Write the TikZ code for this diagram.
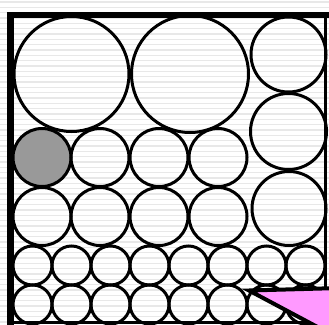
\documentclass[tikz,border=0pt]{standalone}
\begin{document}
\begin{tikzpicture}[x=1pt,y=-1pt,
  circ/.style={draw=black,line width=3pt},
  stripe/.style={draw={rgb,255:red,232;green,232;blue,232},line width=1.6pt}]
\useasboundingbox (0,0) rectangle (329,324);
\clip (0,0) rectangle (329,324);
\fill[white] (0,0) rectangle (329,324);
% stripes
\foreach \i in {0,...,61} {
  \draw[stripe] (0,{2+\i*16/3}) -- (329,{2+\i*16/3});
}
% large circles
\draw[circ] (71.5,74) circle (57.5);
\draw[circ] (190,74) circle (58.5);
\draw[circ] (288.5,54.5) circle (37.5);
\draw[circ] (288.5,131.5) circle (38);
\draw[circ] (289,208.5) circle (37);
% rows of medium circles
\draw[circ,fill={rgb,255:red,153;green,153;blue,153}] (42,157.5) circle (29);
\foreach \x in {100,159,218} \draw[circ] (\x,157.5) circle (29);
\foreach \x in {42,100,159,218} \draw[circ] (\x,216.5) circle (29);
% small circles
\foreach \k in {0,...,7} \draw[circ] ({32.5+39*\k},265.5) circle (19.5);
\foreach \k in {0,...,7} \draw[circ] ({32.5+39*\k},304.5) circle (19.5);
% frame
\draw[line width=6.5pt] (10.5,330) -- (10.5,15) -- (335,15);
\draw[line width=3pt] (325.5,15) -- (325.5,322.5) -- (10.5,322.5);
% pink wedge
\draw[line width=4pt,line join=miter,fill={rgb,255:red,255;green,153;blue,255}]
  (249,290.5) -- (340,288) -- (340,339) -- cycle;
\end{tikzpicture}
\end{document}
